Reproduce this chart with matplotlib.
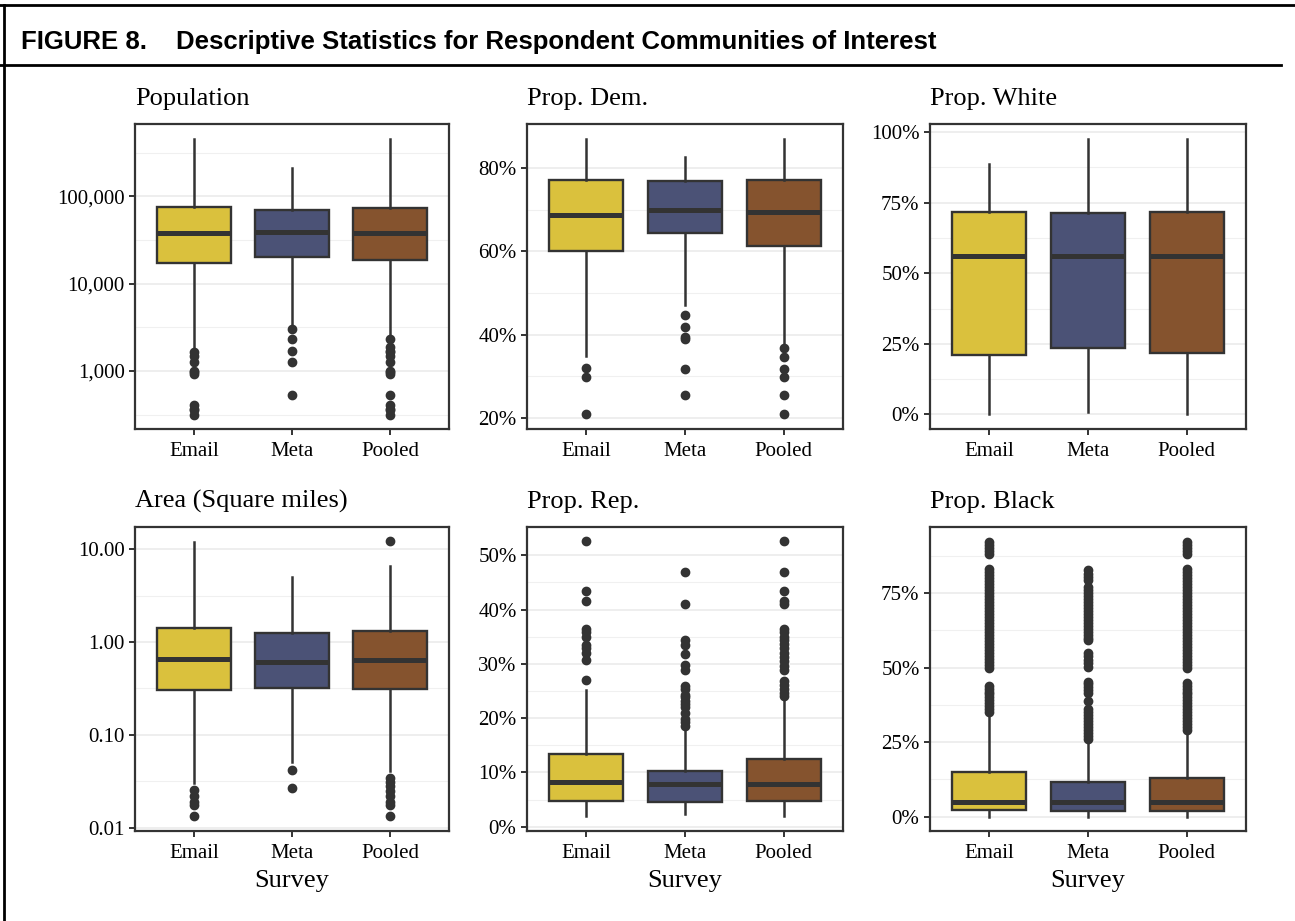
import matplotlib
matplotlib.use("Agg")
import matplotlib.pyplot as plt
from matplotlib.lines import Line2D
from matplotlib.ticker import FuncFormatter

W, H = 1295, 921

surveys = ["Email", "Meta", "Pooled"]
fills = ["#DAC13D", "#4B5276", "#85532E"]
ink = "#333333"

# Population (log scale)
pop_q1 = [17050, 20000, 18500]
pop_med = [38000, 38700, 38400]
pop_q3 = [75300, 69600, 72800]
pop_lo = [1900, 3400, 2600]
pop_hi = [450000, 209600, 450000]
pop_fliers = [
    [1645, 1500, 1262, 1000, 966, 930, 406, 370, 357, 318],
    [3055, 2345, 1690, 1265, 525],
    [2345, 1880, 1700, 1645, 1500, 1262, 1000, 966, 930, 525, 406, 370, 357, 318],
]

# Prop. Dem (%)
dem_q1 = [60.0, 64.4, 61.4]
dem_med = [68.8, 69.9, 69.5]
dem_q3 = [77.2, 77.0, 77.1]
dem_lo = [34.9, 47.1, 37.9]
dem_hi = [87.0, 82.6, 87.0]
dem_fliers = [
    [32.0, 29.7, 20.9],
    [44.7, 41.9, 39.5, 38.9, 31.8, 25.5],
    [36.8, 34.7, 31.8, 29.7, 25.5, 20.9],
]

# Prop. White (%)
white_q1 = [21.0, 23.4, 21.8]
white_med = [56.2, 56.1, 56.1]
white_q3 = [71.8, 71.5, 71.6]
white_lo = [0.0, 0.9, 0.0]
white_hi = [88.8, 97.5, 97.5]
white_fliers = [[], [], []]

# Area (square miles, log scale)
area_q1 = [0.305, 0.32, 0.315]
area_med = [0.65, 0.61, 0.635]
area_q3 = [1.42, 1.25, 1.32]
area_lo = [0.030, 0.051, 0.041]
area_hi = [12.1, 4.99, 6.65]
area_fliers = [
    [0.0256, 0.0217, 0.0191, 0.0176, 0.0132],
    [0.042, 0.027],
    [12.3, 0.0347, 0.031, 0.028, 0.025, 0.0217, 0.0191, 0.0176, 0.0132],
]

# Prop. Rep (%)
rep_q1 = [4.8, 4.6, 4.8]
rep_med = [8.3, 7.9, 7.9]
rep_q3 = [13.4, 10.3, 12.4]
rep_lo = [2.0, 2.3, 2.0]
rep_hi = [25.2, 18.1, 23.3]
rep_fliers = [
    [27.0, 30.7, 31.9, 32.9, 33.5, 35.0, 35.9, 36.5, 41.6, 43.5, 52.6],
    [18.5, 19.2, 19.8, 21.0, 22.0, 22.6, 23.2, 23.8, 24.2, 25.3, 26.0,
     28.8, 29.8, 31.8, 33.5, 34.3, 41.0, 47.0],
    [24.0, 24.6, 25.4, 26.1, 26.8, 28.9, 29.6, 30.5, 31.2, 32.0, 32.9,
     33.6, 34.3, 35.0, 35.9, 36.5, 41.0, 41.6, 43.5, 47.0, 52.6],
]

# Prop. Black (%)
black_q1 = [2.2, 2.0, 2.0]
black_med = [4.8, 5.0, 5.0]
black_q3 = [15.1, 11.5, 13.1]
black_lo = [0.0, 0.0, 0.0]
black_hi = [34.0, 24.5, 28.0]
black_fliers = [
    [35, 36, 37, 38, 39, 40, 41, 42, 43, 44,
     50, 51, 52, 53, 54, 55, 56, 57, 58, 59, 60, 61, 62, 63, 64, 65, 66,
     67, 68, 69, 70, 71, 72, 73, 74, 75, 76, 77, 78, 79, 80, 81, 82, 83,
     88, 89, 90, 91, 92],
    [26, 27, 28, 29, 30, 31, 32, 33, 34, 35, 36, 38.8, 41.5, 42.5, 43.5,
     44.5, 45.2, 50.3, 51.5, 52.5, 53.8, 54.8,
     59.3, 60, 61, 62, 63, 64, 65, 66, 67, 68, 69, 70, 71, 72, 73, 74, 75,
     76, 77, 79.5, 80.5, 81.5, 82.8],
    [29, 30, 31, 32, 33, 34, 35, 36, 37, 38, 39, 40, 41, 42, 43, 44, 45,
     50, 51, 52, 53, 54, 55, 56, 57, 58, 59, 60, 61, 62, 63, 64, 65, 66,
     67, 68, 69, 70, 71, 72, 73, 74, 75, 76, 77, 78, 79, 80, 81, 82, 83,
     88, 89, 90, 91, 92],
]


def box_stats(q1, med, q3, lo, hi, fliers):
    return [dict(q1=q1[i], med=med[i], q3=q3[i], whislo=lo[i], whishi=hi[i],
                 fliers=fliers[i], label=surveys[i]) for i in range(3)]


pct = FuncFormatter(lambda v, p: f"{v:.0f}%")
comma = FuncFormatter(lambda v, p: f"{v:,.0f}")
two_dec = FuncFormatter(lambda v, p: f"{v:.2f}")

panels = [
    dict(title="Population", rect=(135, 124, 449, 429), log=True,
         stats=box_stats(pop_q1, pop_med, pop_q3, pop_lo, pop_hi, pop_fliers),
         ylim=(217, 673000), major=[1e3, 1e4, 1e5],
         minor=[10 ** 2.5, 10 ** 3.5, 10 ** 4.5, 10 ** 5.5], fmt=comma),
    dict(title="Prop. Dem.", rect=(527, 124, 843, 429), log=False,
         stats=box_stats(dem_q1, dem_med, dem_q3, dem_lo, dem_hi, dem_fliers),
         ylim=(17.3, 90.65), major=[20, 40, 60, 80], minor=[30, 50, 70],
         fmt=pct),
    dict(title="Prop. White", rect=(930, 124, 1246, 429), log=False,
         stats=box_stats(white_q1, white_med, white_q3, white_lo, white_hi,
                         white_fliers),
         ylim=(-5.2, 102.9), major=[0, 25, 50, 75, 100],
         minor=[12.5, 37.5, 62.5, 87.5], fmt=pct),
    dict(title="Area (Square miles)", rect=(135, 527, 449, 831), log=True,
         stats=box_stats(area_q1, area_med, area_q3, area_lo, area_hi,
                         area_fliers),
         ylim=(0.0092, 17.4), major=[0.01, 0.1, 1, 10],
         minor=[10 ** -1.5, 10 ** -0.5, 10 ** 0.5], fmt=two_dec),
    dict(title="Prop. Rep.", rect=(527, 527, 843, 831), log=False,
         stats=box_stats(rep_q1, rep_med, rep_q3, rep_lo, rep_hi, rep_fliers),
         ylim=(-0.8, 55.2), major=[0, 10, 20, 30, 40, 50],
         minor=[5, 15, 25, 35, 45], fmt=pct),
    dict(title="Prop. Black", rect=(930, 527, 1246, 831), log=False,
         stats=box_stats(black_q1, black_med, black_q3, black_lo, black_hi,
                         black_fliers),
         ylim=(-4.8, 97.2), major=[0, 25, 50, 75],
         minor=[12.5, 37.5, 62.5, 87.5], fmt=pct),
]

plt.rcParams["font.family"] = ["Liberation Serif", "DejaVu Serif"]

fig = plt.figure(figsize=(W / 100, H / 100), dpi=100)
fig.patch.set_facecolor("white")

for i, pnl in enumerate(panels):
    x0, y0, x1, y1 = pnl["rect"]
    ax = fig.add_axes([x0 / W, 1 - y1 / H, (x1 - x0) / W, (y1 - y0) / H])
    if pnl["log"]:
        ax.set_yscale("log")
    bp = ax.bxp(pnl["stats"], positions=[1, 2, 3], widths=0.75,
                patch_artist=True, showcaps=False,
                boxprops=dict(edgecolor=ink, linewidth=1.7),
                whiskerprops=dict(color=ink, linewidth=1.8),
                medianprops=dict(color=ink, linewidth=3.6, solid_capstyle="butt"),
                flierprops=dict(marker="o", markerfacecolor=ink,
                                markeredgecolor=ink, markersize=6,
                                linestyle="none"),
                zorder=3)
    for patch, c in zip(bp["boxes"], fills):
        patch.set_facecolor(c)

    ax.set_xlim(0.4, 3.6)
    ax.set_ylim(*pnl["ylim"])
    ax.set_yticks(pnl["major"])
    ax.set_yticks(pnl["minor"], minor=True)
    ax.yaxis.set_major_formatter(pnl["fmt"])
    ax.yaxis.set_minor_formatter(FuncFormatter(lambda v, p: ""))
    ax.set_xticks([1, 2, 3])
    ax.set_xticklabels(surveys)

    ax.grid(axis="y", which="major", color="#EBEBEB", linewidth=1.2, zorder=0)
    ax.grid(axis="y", which="minor", color="#F0F0F0", linewidth=0.8, zorder=0)
    ax.set_axisbelow(True)

    ax.tick_params(axis="both", which="major", labelsize=15, colors=ink,
                   labelcolor="black", length=4.5, width=1.4, pad=3)
    ax.tick_params(axis="x", which="major", pad=5)
    ax.tick_params(axis="y", which="minor", length=0)
    for sp in ax.spines.values():
        sp.set_color(ink)
        sp.set_linewidth(1.6)

    fig.text(x0 / W, 1 - (y0 - 19) / H, pnl["title"], fontsize=19,
             ha="left", va="baseline")
    if i >= 3:
        fig.text((x0 + x1) / 2 / W, 1 - 887 / H, "Survey", fontsize=19,
                 ha="center", va="baseline")

# header block
fig.text(21 / W, 1 - 49 / H, "FIGURE 8.", fontsize=18.5, fontweight="bold",
         family="Liberation Sans", ha="left", va="baseline")
fig.text(176 / W, 1 - 49 / H,
         "Descriptive Statistics for Respondent Communities of Interest",
         fontsize=18.5, fontweight="bold", family="Liberation Sans",
         ha="left", va="baseline")
fig.add_artist(Line2D([0, 1], [1 - 5.5 / H, 1 - 5.5 / H], color="black",
                      linewidth=2, transform=fig.transFigure))
fig.add_artist(Line2D([4 / W, 4 / W], [0, 1 - 5 / H], color="black",
                      linewidth=2, transform=fig.transFigure))
fig.add_artist(Line2D([0, 1281 / W], [1 - 65 / H, 1 - 65 / H], color="black",
                      linewidth=2, transform=fig.transFigure))

fig.savefig("out.png", dpi=100)
